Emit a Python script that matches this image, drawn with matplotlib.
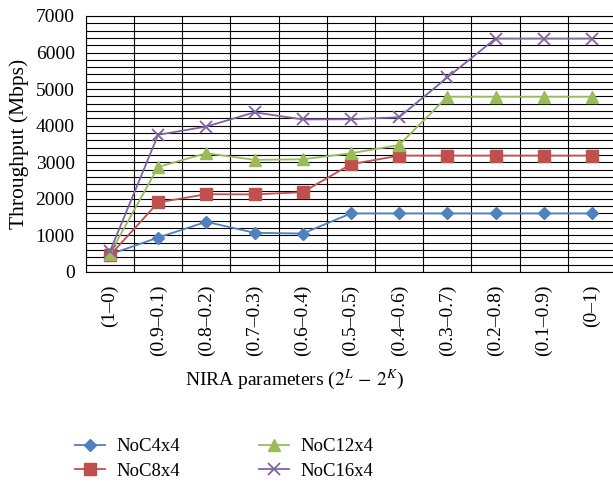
import numpy as np
import matplotlib.pyplot as plt
from matplotlib.ticker import MultipleLocator

# NIRA parameter settings (x categories)
params = ["(1–0)", "(0.9–0.1)", "(0.8–0.2)", "(0.7–0.3)", "(0.6–0.4)", "(0.5–0.5)",
          "(0.4–0.6)", "(0.3–0.7)", "(0.2–0.8)", "(0.1–0.9)", "(0–1)"]

# throughput in Mbps
noc4 = [480, 940, 1370, 1070, 1050, 1600, 1600, 1600, 1600, 1600, 1600]
noc8 = [450, 1900, 2125, 2120, 2180, 2945, 3180, 3180, 3180, 3180, 3180]
noc12 = [500, 2870, 3245, 3065, 3080, 3245, 3470, 4790, 4790, 4790, 4790]
noc16 = [560, 3750, 3975, 4365, 4170, 4175, 4230, 5320, 6380, 6380, 6380]

plt.rcParams['font.family'] = 'Liberation Serif'
plt.rcParams['mathtext.fontset'] = 'stix'
plt.rcParams['font.size'] = 14

fig = plt.figure(figsize=(6.13, 4.83), dpi=100)
ax = fig.add_axes([0.140, 0.437, 0.865, 0.530])

x = np.arange(len(params))
ax.plot(x, noc4, color='#4F81BD', marker='D', markersize=6.5, lw=1.3, label='NoC4x4', zorder=5)
ax.plot(x, noc8, color='#C0504D', marker='s', markersize=8, lw=1.3, label='NoC8x4', zorder=5)
ax.plot(x, noc12, color='#9BBB59', marker='^', markersize=9, lw=1.3, label='NoC12x4', zorder=5)
ax.plot(x, noc16, color='#8064A2', marker='x', markersize=9, mew=1.3, lw=1.3, label='NoC16x4', zorder=5)

ax.set_xlim(-0.5, len(params) - 0.5)
ax.set_ylim(0, 7000)
ax.yaxis.set_major_locator(MultipleLocator(1000))
ax.yaxis.set_minor_locator(MultipleLocator(200))
ax.set_xticks(x)
ax.set_xticklabels(params, rotation=90, va='top', ha='center')
ax.set_xticks(np.arange(-0.5, len(params), 1), minor=True)

ax.grid(True, which='both', axis='y', color='black', lw=0.8)
ax.grid(True, which='minor', axis='x', color='black', lw=0.8)
ax.set_axisbelow(True)
ax.tick_params(axis='both', which='both', length=0)
ax.tick_params(axis='x', pad=9)
ax.tick_params(axis='y', pad=8)
for s in ax.spines.values():
    s.set_color('black')
    s.set_linewidth(0.8)

ax.set_ylabel('Throughput (Mbps)', fontsize=15.5)
ax.yaxis.set_label_coords(-0.108, 0.5)
ax.set_xlabel(r'NIRA parameters ($2^{L}$ $-$ $2^{K}$)', fontsize=14)
ax.xaxis.set_label_coords(0.394, -0.375)

fig.legend(loc='upper left', bbox_to_anchor=(0.095, 0.128), ncol=2, frameon=False,
           fontsize=13.5, handlelength=1.6, columnspacing=4.2, labelspacing=0.4,
           handletextpad=0.6)

fig.savefig('out.png', dpi=100)
